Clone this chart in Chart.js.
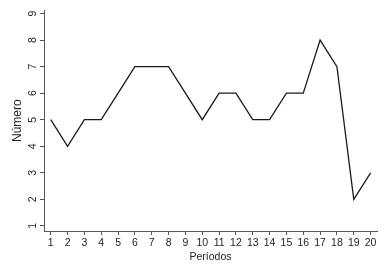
<!DOCTYPE html>
<html>
<head>
<meta charset="utf-8">
<script src="https://cdn.jsdelivr.net/npm/chart.js@4/dist/chart.umd.min.js"></script>
<style>
  html, body { margin: 0; padding: 0; background: #fff; }
  #wrap { width: 392px; height: 264px; }
</style>
</head>
<body>
<div id="wrap"><canvas id="lineChart" width="392" height="264"></canvas></div>
<script>
const periods = [1, 2, 3, 4, 5, 6, 7, 8, 9, 10, 11, 12, 13, 14, 15, 16, 17, 18, 19, 20];
const numero = [5, 4, 5, 5, 6, 7, 7, 7, 6, 5, 6, 6, 5, 5, 6, 6, 8, 7, 2, 3];
const yTicks = [1, 2, 3, 4, 5, 6, 7, 8, 9];

const axisColor = '#555';
const font = { family: 'Liberation Sans, Arial, sans-serif', size: 10.5 };

const ctx = document.getElementById('lineChart').getContext('2d');
const chart = new Chart(ctx, {
  type: 'line',
  data: {
    datasets: [{
      data: periods.map((p, i) => ({ x: p, y: numero[i] })),
      borderColor: '#1a1a1a',
      borderWidth: 1.3,
      pointRadius: 0,
      tension: 0,
      fill: false
    }]
  },
  options: {
    responsive: false,
    animation: false,
    layout: { padding: { top: 10, right: 15, left: 0, bottom: 0 } },
    plugins: { legend: { display: false }, tooltip: { enabled: false } },
    scales: {
      x: {
        type: 'linear',
        min: 0.6,
        max: 20.38,
        afterBuildTicks: scale => { scale.ticks = periods.map(v => ({ value: v })); },
        afterFit: scale => { scale.height = 33; },
        grid: { display: true, drawOnChartArea: false, tickLength: 4, color: axisColor },
        border: { display: true, color: axisColor, width: 1 },
        ticks: { color: '#222', font: font, padding: 2, maxRotation: 0, autoSkip: false },
        title: { display: true, text: 'Períodos', color: '#222', font: font, padding: { top: 0, bottom: 1 } }
      },
      y: {
        min: 0.81,
        max: 9.12,
        afterBuildTicks: scale => { scale.ticks = yTicks.map(v => ({ value: v })); },
        afterFit: scale => { scale.width = 44; },
        grid: { display: true, drawOnChartArea: false, tickLength: 4, color: axisColor },
        border: { display: true, color: axisColor, width: 1 },
        ticks: { color: '#222', font: font, padding: 4, minRotation: 90, maxRotation: 90, crossAlign: 'center' },
        title: { display: true, text: 'Número', color: '#222', font: { family: font.family, size: 12 }, padding: { top: 10, bottom: 0 } }
      }
    }
  }
});
</script>
</body>
</html>
